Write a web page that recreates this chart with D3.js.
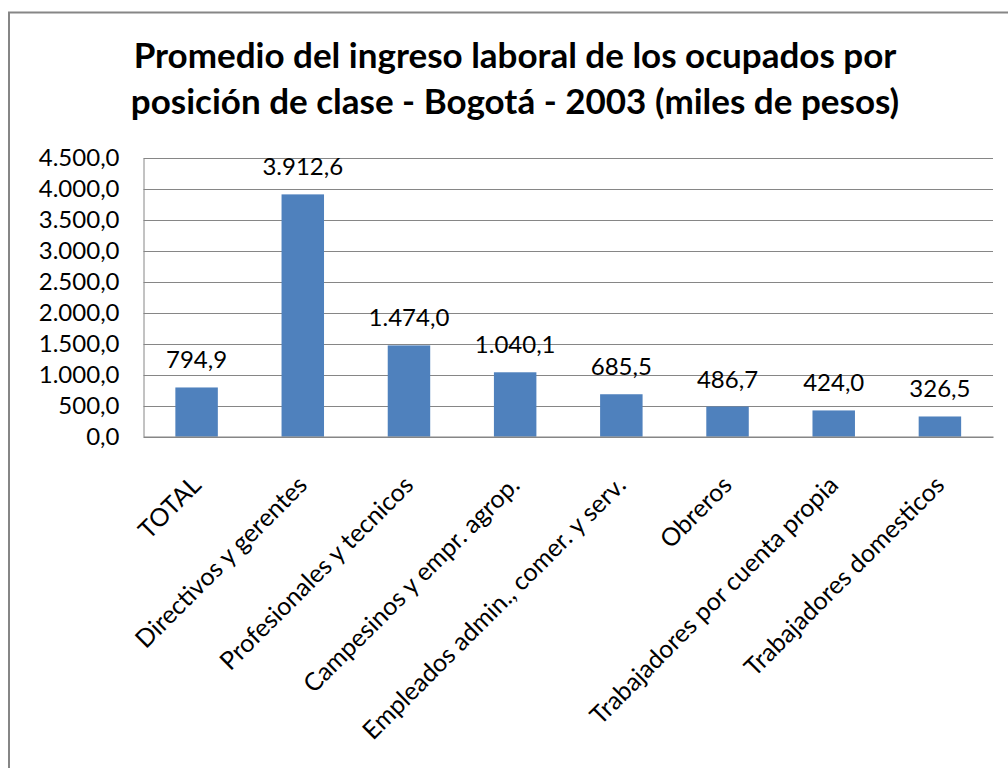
<!DOCTYPE html>
<html>
<head>
<meta charset="utf-8">
<script src="https://cdn.jsdelivr.net/npm/d3@7"></script>
<style>
  html, body { margin: 0; padding: 0; background: #fff; }
  svg { display: block; font-family: Lato, "Open Sans", sans-serif; }
</style>
</head>
<body>
<svg id="chart" width="1008" height="768"></svg>
<script>
// ingreso laboral promedio por posición de clase, Bogotá 2003

const categories = [
  'TOTAL',
  'Directivos y gerentes',
  'Profesionales y tecnicos',
  'Campesinos y empr. agrop.',
  'Empleados admin., comer. y serv.',
  'Obreros',
  'Trabajadores por cuenta propia',
  'Trabajadores domesticos'
];
const values = [794.9, 3912.6, 1474.0, 1040.1, 685.5, 486.7, 424.0, 326.5];
const yTicks = [0, 500, 1000, 1500, 2000, 2500, 3000, 3500, 4000, 4500];
const titleLines = [
  'Promedio del ingreso laboral de los ocupados por',
  'posición de clase - Bogotá - 2003 (miles de pesos)'
];

const width = 1008;
const height = 768;
const plot = { left: 143.5, right: 993, top: 158, bottom: 436.7 };

const svg = d3.select('#chart');

// chart area frame (runs off the right and bottom edges)
svg.append('rect')
  .attr('x', 9).attr('y', 12.5)
  .attr('width', 1030).attr('height', 800)
  .attr('fill', '#fff')
  .attr('stroke', '#868686')
  .attr('stroke-width', 2);

// number format like 4.500,0
const fmt = d3.formatLocale({ decimal: ',', thousands: '.', grouping: [3], currency: ['$', ''] }).format(',.1f');

const x = d3.scaleBand()
  .domain(categories)
  .range([plot.left, plot.right])
  .paddingInner(0.6)
  .paddingOuter(0.3);

const y = d3.scaleLinear()
  .domain([0, 4500])
  .range([plot.bottom, plot.top]);

// title
const title = svg.append('g').attr('class', 'title');
titleLines.forEach((t, i) => {
  title.append('text')
    .attr('x', 515)
    .attr('y', 68 + i * 46)
    .attr('text-anchor', 'middle')
    .attr('font-weight', 'bold')
    .attr('font-size', 35)
    .attr('fill', '#000')
    .text(t);
});

// gridlines
svg.append('g')
  .selectAll('line')
  .data(yTicks)
  .join('line')
    .attr('x1', plot.left).attr('x2', plot.right)
    .attr('y1', d => Math.round(y(d)) + 0.5)
    .attr('y2', d => Math.round(y(d)) + 0.5)
    .attr('stroke', '#868686')
    .attr('stroke-width', 1);

// y axis
const yAxis = svg.append('g')
  .attr('transform', `translate(${plot.left},0)`)
  .call(d3.axisLeft(y).tickValues(yTicks).tickFormat(fmt).tickSize(0).tickPadding(24));
yAxis.select('.domain').attr('stroke', '#868686');
yAxis.selectAll('text')
  .attr('font-family', 'Lato, sans-serif')
  .attr('font-size', 24)
  .attr('fill', '#000');

// bars
svg.append('g')
  .selectAll('rect')
  .data(values)
  .join('rect')
    .attr('x', (d, i) => x(categories[i]))
    .attr('y', d => y(d))
    .attr('width', x.bandwidth())
    .attr('height', d => y(0) - y(d))
    .attr('fill', '#4F81BD');

// value labels
svg.append('g')
  .selectAll('text')
  .data(values)
  .join('text')
    .attr('x', (d, i) => x(categories[i]) + x.bandwidth() / 2)
    .attr('y', d => y(d) - 19)
    .attr('text-anchor', 'middle')
    .attr('font-size', 24)
    .attr('fill', '#000')
    .text(d => fmt(d));

// x axis
const xAxis = svg.append('g')
  .attr('transform', `translate(0,${plot.bottom})`)
  .call(d3.axisBottom(x).tickSize(0).tickFormat(d => d));
xAxis.select('.domain').attr('stroke', '#868686').attr('stroke-width', 1.5);
xAxis.selectAll('.tick text')
  .attr('font-family', 'Lato, sans-serif')
  .attr('font-size', 25)
  .attr('fill', '#000')
  .attr('text-anchor', 'end')
  .attr('dy', 0)
  .attr('y', 0)
  .attr('transform', 'translate(6,50) rotate(-45)');
</script>
</body>
</html>
